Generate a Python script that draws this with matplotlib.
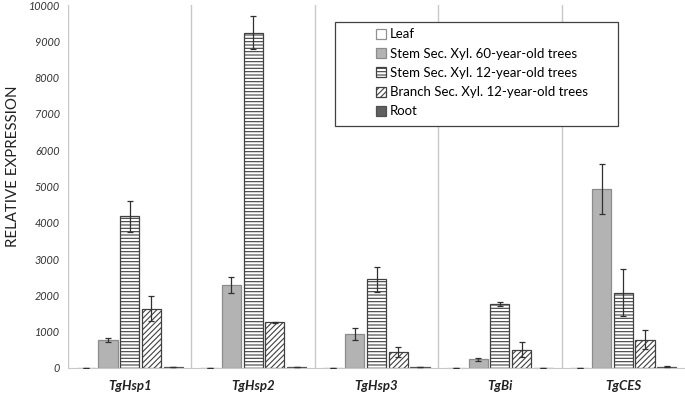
import matplotlib
matplotlib.use("Agg")
import matplotlib.pyplot as plt
import numpy as np
from matplotlib.patches import Rectangle

plt.rcParams['font.family'] = ['Lato', 'DejaVu Sans']
plt.rcParams['hatch.linewidth'] = 0.8

genes = ['TgHsp1', 'TgHsp2', 'TgHsp3', 'TgBi', 'TgCES']
tissues = ['Leaf', 'Stem Sec. Xyl. 60-year-old trees', 'Stem Sec. Xyl. 12-year-old trees',
           'Branch Sec. Xyl. 12-year-old trees', 'Root']

leaf = [10, 10, 10, 8, 10]
stem60 = [770, 2290, 930, 240, 4920]
stem12 = [4180, 9240, 2440, 1770, 2075]
branch = [1635, 1258, 450, 505, 780]
root = [20, 20, 15, 12, 40]

leaf_err = [0, 0, 0, 0, 0]
stem60_err = [60, 220, 165, 40, 690]
stem12_err = [430, 460, 340, 50, 655]
branch_err = [340, 20, 140, 200, 260]
root_err = [0, 0, 0, 0, 5]

yticks = [0, 1000, 2000, 3000, 4000, 5000, 6000, 7000, 8000, 9000, 10000]

series = [leaf, stem60, stem12, branch, root]
errors = [leaf_err, stem60_err, stem12_err, branch_err, root_err]
faces = ['white', '#b3b3b3', 'white', 'white', '#606060']
edges = ['#909090', '#8c8c8c', '#404040', '#404040', '#505050']
hatches = [None, None, '-----', '//////', None]

fig = plt.figure(figsize=(6.85, 3.94), dpi=100)
ax = fig.add_axes([68 / 685, 1 - 368 / 394, 617 / 685, 363 / 394])

x = np.arange(len(genes))
step = 0.176
width = 0.155
handles = []
for k, vals in enumerate(series):
    pos = x + (k - 2) * step
    b = ax.bar(pos, vals, width, color=faces[k], edgecolor=edges[k], linewidth=0.9,
               hatch=hatches[k], label=tissues[k], zorder=2)
    handles.append(b)
    ax.errorbar(pos, vals, yerr=errors[k], fmt='none', ecolor='#303030',
                elinewidth=0.9, capsize=2, capthick=0.9, zorder=3)

ax.set_xlim(-0.5, len(genes) - 0.5)
ax.set_ylim(0, 10000)
ax.set_yticks(yticks)
ax.set_yticklabels([str(v) for v in yticks], fontsize=7.8, style='italic', color='#333333')
ax.set_xticks(x)
ax.set_xticklabels(genes, fontsize=9.5, style='italic', fontweight='bold', color='#222222')
ax.tick_params(axis='both', length=0)
ax.tick_params(axis='y', pad=6)
ax.tick_params(axis='x', pad=9)

for s in ['top', 'right', 'left']:
    ax.spines[s].set_visible(False)
ax.spines['bottom'].set_color('#c8c8c8')
for xv in np.arange(-0.5, len(genes) - 0.5, 1.0):
    ax.axvline(xv, color='#c8c8c8', linewidth=1.0, zorder=1)

ax.set_ylabel('RELATIVE EXPRESSION', fontsize=10.8, color='#222222')
ax.yaxis.set_label_coords(-0.078, 0.556)

ax.add_patch(Rectangle((0.433, 0.667), 0.458, 0.286, transform=ax.transAxes,
                       facecolor='white', edgecolor='#404040', linewidth=0.9, zorder=4))
leg = ax.legend(handles=handles, loc='upper left', bbox_to_anchor=(0.49, 0.95),
                frameon=False, fontsize=9.5, handlelength=0.8, handleheight=0.8,
                handletextpad=0.3, labelspacing=0.55, borderaxespad=0)
leg.set_zorder(5)

fig.savefig('out.png', dpi=100)
